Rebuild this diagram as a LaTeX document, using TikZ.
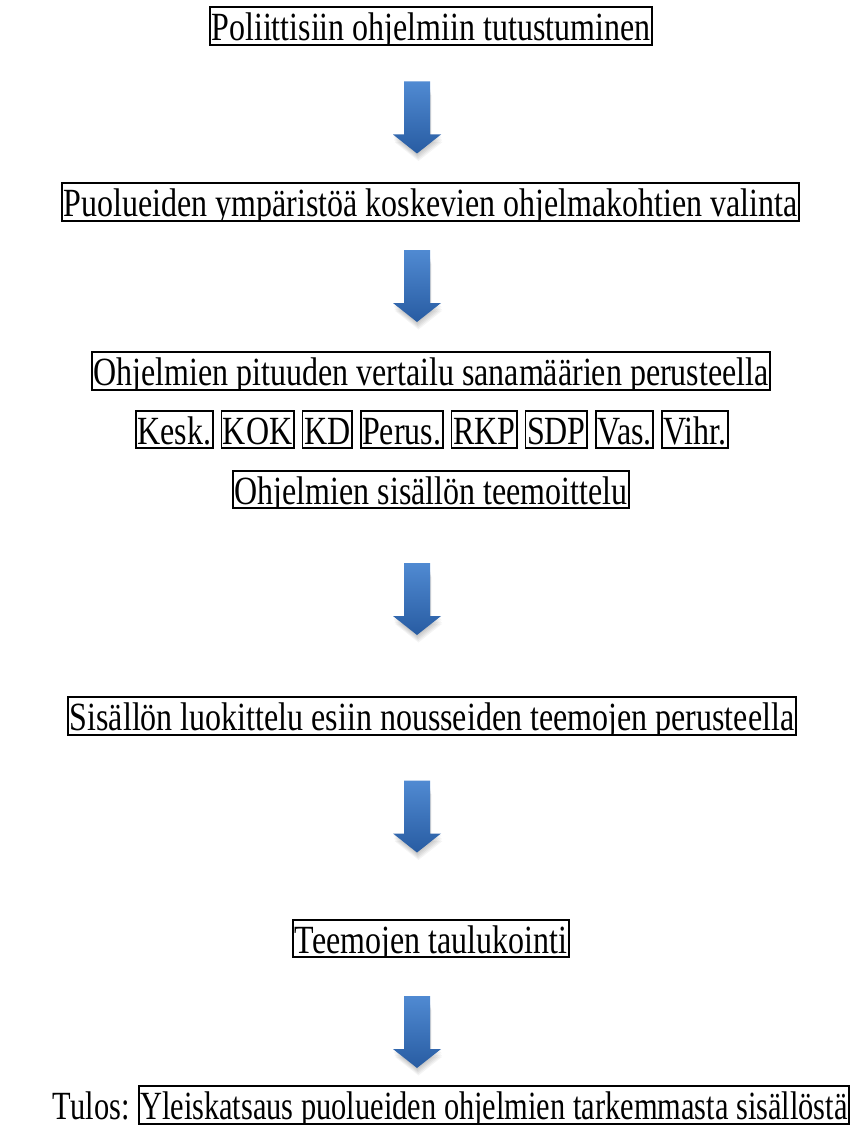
\documentclass[tikz,border=0pt]{standalone}
\usepackage{fontspec}
\setmainfont[FakeStretch=0.8]{Liberation Serif}
\usetikzlibrary{positioning}
\definecolor{arrtop}{RGB}{80,138,210}
\definecolor{arrbot}{RGB}{40,92,162}
\tikzset{
  x=1pt, y=-1pt,
  txt/.style={font=\fontsize{40}{48}\selectfont, text height=33pt, text depth=4pt},
  box/.style={txt, draw, line width=1.8pt, inner xsep=1.5pt, inner ysep=0.3pt},
  plain/.style={txt, inner xsep=0pt, inner ysep=0.3pt},
  blockarrow/.pic={
    \foreach \s in {1,2,3,4,5}{
      \fill[black, opacity=0.045] ([shift={(0.3*\s,1.5*\s)}]-13,-30) -- ([shift={(0.3*\s,1.5*\s)}]13,-30) -- ([shift={(0.3*\s,1.5*\s)}]13,17) -- ([shift={(0.3*\s,1.5*\s)}]24,17) -- ([shift={(0.3*\s,1.5*\s)}]0,36) -- ([shift={(0.3*\s,1.5*\s)}]-24,17) -- ([shift={(0.3*\s,1.5*\s)}]-13,17) -- cycle;
    }
    \shade[top color=arrtop, bottom color=arrbot] (-13,-36) -- (13,-36) -- (13,17) -- (24,17) -- (0,36) -- (-24,17) -- (-13,17) -- cycle;
  }
}
\begin{document}
\begin{tikzpicture}
\useasboundingbox[fill=white] (0,0) rectangle (852,1126);

\node[box] (l1) at (431,26) {Poliittisiin ohjelmiin tutustuminen};
\node[box] (l2) at (430.5,202) {Puolueiden ympäristöä koskevien ohjelmakohtien valinta};
\node[box] (l3) at (431,371) {Ohjelmien pituuden vertailu sanamäärien perusteella};

\node[box, anchor=west] (p1) at (135,429.5) {Kesk.};
\node[box, right=7pt of p1] (p2) {KOK};
\node[box, right=7pt of p2] (p3) {KD};
\node[box, right=7pt of p3] (p4) {Perus.};
\node[box, right=7pt of p4] (p5) {RKP};
\node[box, right=7pt of p5] (p6) {SDP};
\node[box, right=7pt of p6] (p7) {Vas.};
\node[box, right=7pt of p7] (p8) {Vihr.};

\node[box] (l4) at (431,489.5) {Ohjelmien sisällön teemoittelu};
\node[box] (l5) at (432,716) {Sisällön luokittelu esiin nousseiden teemojen perusteella};
\node[box] (l6) at (431,938.5) {Teemojen taulukointi};
\node[box, anchor=east] (l7) at (850,1105) {\scalebox{0.95}[1]{Yleiskatsaus puolueiden ohjelmien tarkemmasta sisällöstä}};
\node[plain, left=8pt of l7] (tulos) {\scalebox{0.95}[1]{Tulos:}};

% descenders are clipped at the lower edge of each frame, as in the reference
\foreach \n in {l1,l2,l3,p1,p2,p3,p4,p5,p6,p7,p8,l4,l5,l6,l7}
  \fill[white] ([xshift=-1pt]\n.south west) rectangle ([xshift=1pt,yshift=-10pt]\n.south east);
\fill[white] ([xshift=-1pt]tulos.south west) rectangle ([xshift=1pt,yshift=-10pt]tulos.south east);

\coordinate (a1) at (417,117.5);
\coordinate (a2) at (417,286);
\coordinate (a3) at (417,599);
\coordinate (a4) at (417,816.5);
\coordinate (a5) at (417,1032);
\foreach \a in {a1,a2,a3,a4,a5} { \pic at (\a) {blockarrow}; }
\end{tikzpicture}
\end{document}
